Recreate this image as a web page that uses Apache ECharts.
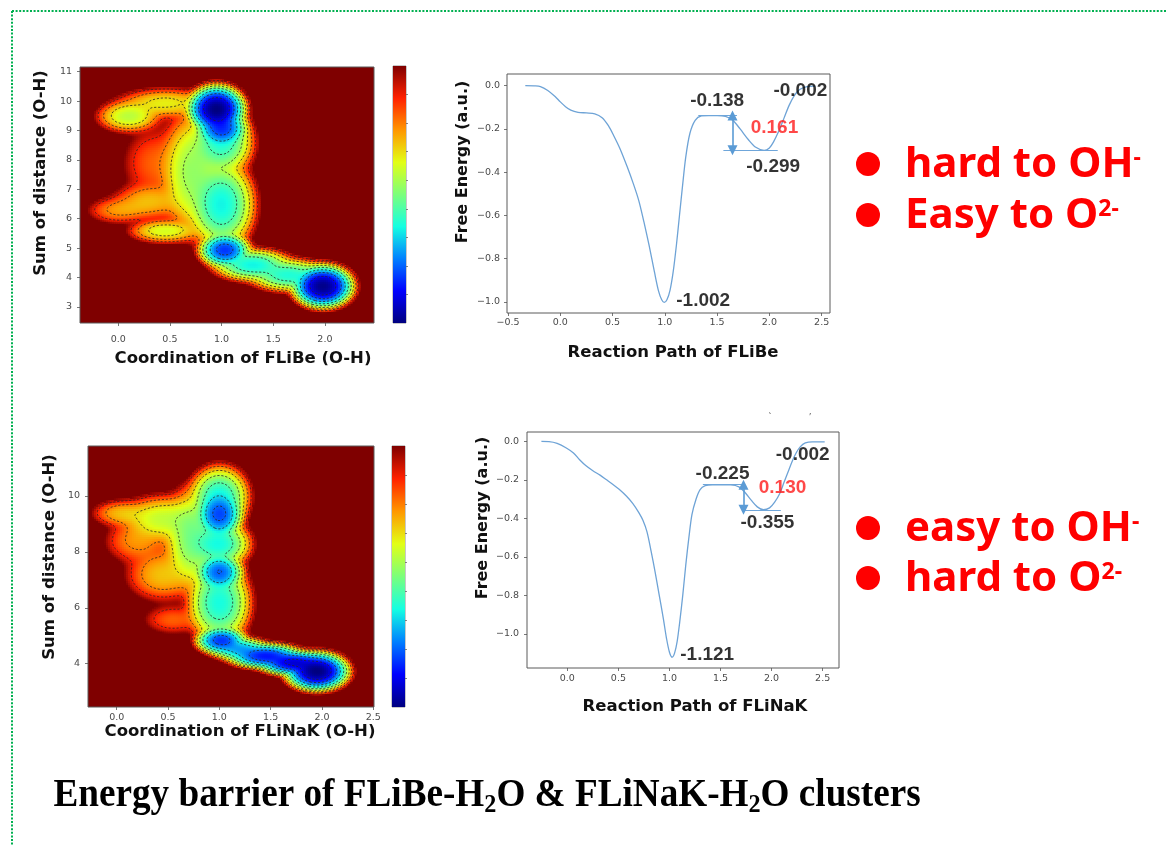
<!DOCTYPE html>
<html>
<head>
<meta charset="utf-8">
<script src="https://cdn.jsdelivr.net/npm/echarts@6/dist/echarts.min.js"></script>
<style>
  html, body { margin: 0; padding: 0; background: #ffffff; }
  #c { width: 1167px; height: 845px; }
</style>
</head>
<body>
<div id="c"></div>
<script>
// ---------- free-energy surfaces: basins [x, y, rx, ry, g0] ----------
const G_MAX = 9;
const WALL = 2.2;
const flibeBasins = [
  [0.95, 9.75, 0.34, 1.00, 0.0],
  [1.00, 9.10, 0.30, 0.80, 1.6],
  [1.98, 3.72, 0.36, 0.90, 0.1],
  [1.03, 4.95, 0.30, 0.70, 1.6],
  [1.00, 6.50, 0.38, 1.80, 3.3],
  [1.00, 8.60, 0.36, 1.30, 3.6],
  [1.30, 4.45, 0.45, 0.65, 3.3],
  [1.65, 4.10, 0.45, 0.65, 3.5],
  [0.10, 9.50, 0.34, 0.60, 5.2],
  [0.45, 9.95, 0.50, 0.55, 5.8],
  [0.72, 7.60, 0.35, 2.40, 4.8],
  [0.30, 6.60, 0.38, 0.65, 6.4],
  [0.00, 6.30, 0.30, 0.45, 6.8],
  [0.45, 5.60, 0.38, 0.45, 5.5],
  [0.35, 7.90, 0.30, 1.20, 7.3]
];
const flinakBasins = [
  [1.95, 3.75, 0.38, 0.85, 0.0],
  [1.72, 4.05, 0.42, 0.55, 0.8],
  [1.45, 4.30, 0.45, 0.55, 1.3],
  [1.02, 4.85, 0.30, 0.60, 1.6],
  [1.20, 4.55, 0.35, 0.50, 2.6],
  [1.00, 6.20, 0.36, 1.70, 3.4],
  [1.00, 7.30, 0.28, 0.85, 2.0],
  [1.00, 9.35, 0.28, 1.10, 1.8],
  [1.00, 10.0, 0.34, 1.30, 3.4],
  [1.00, 8.30, 0.36, 1.00, 3.4],
  [0.75, 8.50, 0.34, 2.10, 4.4],
  [0.45, 9.20, 0.45, 0.95, 5.3],
  [0.05, 9.40, 0.30, 0.50, 6.4],
  [0.20, 8.40, 0.32, 0.80, 6.8],
  [0.45, 7.20, 0.38, 1.00, 6.3],
  [0.55, 5.60, 0.28, 0.50, 7.3]
];
const contourLevels = [1, 2, 3, 4, 5, 6, 7, 8];

// ---------- 1-D free-energy profiles along the reaction path ----------
const flibePathX = [-0.335, -0.25, -0.19, -0.12, -0.05, 0.0, 0.05, 0.1, 0.17, 0.25, 0.33, 0.4, 0.46, 0.51, 0.57, 0.64, 0.7, 0.75, 0.8, 0.85, 0.9, 0.94, 0.97, 0.994, 1.02, 1.05, 1.08, 1.11, 1.14, 1.17, 1.2, 1.24, 1.29, 1.35, 1.42, 1.5, 1.58, 1.65, 1.72, 1.8, 1.87, 1.95, 2.0, 2.04, 2.09, 2.14, 2.19, 2.24, 2.29, 2.35, 2.44];
const flibePathG = [0.0, -0.001, -0.004, -0.022, -0.05, -0.075, -0.097, -0.113, -0.123, -0.126, -0.13, -0.148, -0.185, -0.23, -0.29, -0.375, -0.455, -0.53, -0.63, -0.74, -0.86, -0.95, -0.99, -1.002, -0.99, -0.945, -0.86, -0.74, -0.6, -0.46, -0.33, -0.22, -0.16, -0.14, -0.138, -0.138, -0.142, -0.16, -0.2, -0.25, -0.285, -0.299, -0.288, -0.26, -0.21, -0.15, -0.09, -0.045, -0.018, -0.005, -0.002];
const flinakPathX = [-0.254, -0.18, -0.1, -0.01, 0.06, 0.12, 0.18, 0.25, 0.32, 0.38, 0.45, 0.51, 0.58, 0.64, 0.7, 0.74, 0.78, 0.82, 0.86, 0.9, 0.94, 0.97, 1.0, 1.027, 1.05, 1.075, 1.1, 1.13, 1.16, 1.19, 1.22, 1.26, 1.3, 1.35, 1.42, 1.5, 1.6, 1.68, 1.74, 1.8, 1.86, 1.92, 1.98, 2.03, 2.08, 2.12, 2.16, 2.2, 2.24, 2.28, 2.33, 2.4, 2.52];
const flinakPathG = [0.0, -0.001, -0.01, -0.034, -0.06, -0.095, -0.125, -0.152, -0.175, -0.198, -0.225, -0.25, -0.285, -0.322, -0.37, -0.41, -0.47, -0.57, -0.68, -0.8, -0.92, -1.02, -1.095, -1.121, -1.1, -1.04, -0.94, -0.8, -0.64, -0.5, -0.38, -0.3, -0.25, -0.23, -0.225, -0.225, -0.226, -0.236, -0.265, -0.305, -0.34, -0.355, -0.345, -0.315, -0.27, -0.215, -0.16, -0.105, -0.06, -0.028, -0.008, -0.002, -0.002];

// states marked on each profile: [transition state, product well, main well, end]
const flibeStates = [-0.138, -0.299, -1.002, -0.002];
const flinakStates = [-0.225, -0.355, -1.121, -0.002];

// tick values
const flibeMapXTicks = [0, 0.5, 1, 1.5, 2];
const flibeMapYTicks = [3, 4, 5, 6, 7, 8, 9, 10, 11];
const flinakMapXTicks = [0, 0.5, 1, 1.5, 2, 2.5];
const flinakMapYTicks = [4, 6, 8, 10];
const pathXTicks = [-0.5, 0, 0.5, 1, 1.5, 2, 2.5];
const flibePathYTicks = [0, -0.2, -0.4, -0.6, -0.8, -1.0];
const flinakPathYTicks = [0, -0.2, -0.4, -0.6, -0.8, -1.0];
const colorbarTicks = [1, 2, 3, 4, 5, 6, 7, 8];

const jet = ['#00007f', '#0000ff', '#0080ff', '#15ffe2', '#7bff7b', '#e2ff15', '#ff9700', '#ff2100', '#7f0000'];

// ---------- surface evaluation ----------
function freeEnergy(basins, x, y) {
  let s = 0;
  for (const b of basins) {
    const dx = (x - b[0]) / b[2], dy = (y - b[1]) / b[3];
    const rho = Math.sqrt(dx * dx + dy * dy);
    s += Math.exp(-(b[4] + (G_MAX - b[4]) * Math.pow(rho, WALL)));
  }
  const g = -Math.log(s + 1e-300);
  return Math.max(0, Math.min(G_MAX, g));
}

function sampleSurface(basins, xr, yr, nx, ny) {
  const xs = [], ys = [], vals = new Float64Array(nx * ny);
  const dx = (xr[1] - xr[0]) / nx, dy = (yr[1] - yr[0]) / ny;
  for (let i = 0; i < nx; i++) xs.push(xr[0] + (i + 0.5) * dx);
  for (let j = 0; j < ny; j++) ys.push(yr[0] + (j + 0.5) * dy);
  const cells = [];
  for (let j = 0; j < ny; j++) {
    for (let i = 0; i < nx; i++) {
      const g = freeEnergy(basins, xs[i], ys[j]);
      vals[j * nx + i] = g;
      if (g < G_MAX - 1e-6) cells.push([xs[i], ys[j], g]);
    }
  }
  return { xs, ys, vals, nx, ny, dx, dy, cells };
}

// marching squares + chaining into polylines
function contourLines(s, level) {
  const { xs, ys, vals, nx, ny } = s;
  const pts = new Map();
  const segs = [];
  function edge(t, i, j) {
    const k = t + i + '_' + j;
    if (!pts.has(k)) {
      let i1 = i, j1 = j;
      if (t === 'h') i1 = i + 1; else j1 = j + 1;
      const a = vals[j * nx + i], b = vals[j1 * nx + i1];
      const f = (level - a) / (b - a);
      pts.set(k, [xs[i] + (xs[i1] - xs[i]) * f, ys[j] + (ys[j1] - ys[j]) * f]);
    }
    return k;
  }
  const table = {
    1: [[3, 0]], 2: [[0, 1]], 3: [[3, 1]], 4: [[1, 2]], 5: [[3, 0], [1, 2]],
    6: [[0, 2]], 7: [[3, 2]], 8: [[3, 2]], 9: [[0, 2]], 10: [[0, 1], [2, 3]],
    11: [[1, 2]], 12: [[3, 1]], 13: [[0, 1]], 14: [[3, 0]]
  };
  for (let j = 0; j < ny - 1; j++) {
    for (let i = 0; i < nx - 1; i++) {
      const v0 = vals[j * nx + i], v1 = vals[j * nx + i + 1];
      const v2 = vals[(j + 1) * nx + i + 1], v3 = vals[(j + 1) * nx + i];
      const code = (v0 > level ? 1 : 0) | (v1 > level ? 2 : 0) | (v2 > level ? 4 : 0) | (v3 > level ? 8 : 0);
      const pairs = table[code];
      if (!pairs) continue;
      const e = [() => edge('h', i, j), () => edge('v', i + 1, j), () => edge('h', i, j + 1), () => edge('v', i, j)];
      for (const p of pairs) segs.push([e[p[0]](), e[p[1]]()]);
    }
  }
  const adj = new Map();
  segs.forEach((sg, k) => sg.forEach(kk => { if (!adj.has(kk)) adj.set(kk, []); adj.get(kk).push(k); }));
  const used = new Uint8Array(segs.length);
  const lines = [];
  for (let k = 0; k < segs.length; k++) {
    if (used[k]) continue;
    used[k] = 1;
    const head = [segs[k][0]], tail = [segs[k][1]];
    for (const side of [tail, head]) {
      while (true) {
        const endKey = side[side.length - 1];
        const nxt = (adj.get(endKey) || []).find(m => !used[m]);
        if (nxt === undefined) break;
        used[nxt] = 1;
        side.push(segs[nxt][0] === endKey ? segs[nxt][1] : segs[nxt][0]);
      }
    }
    const chain = head.reverse().concat(tail);
    if (chain.length > 5) lines.push(chain.map(kk => pts.get(kk)));
  }
  return lines;
}

// ---------- panel geometry ----------
const mapA = { xr: [-0.37, 2.475], yr: [2.45, 11.16], grid: { left: 80, top: 67, width: 294, height: 256 } };
const mapB = { xr: [-0.28, 2.507], yr: [2.45, 11.79], grid: { left: 88, top: 446, width: 286, height: 261 } };
const barA = { left: 393, top: 66, width: 13, height: 257 };
const barB = { left: 392, top: 446, width: 13, height: 261 };
const pathA = { xr: [-0.51, 2.58], yr: [-1.051, 0.054], grid: { left: 507, top: 74, width: 323, height: 239 } };
const pathB = { xr: [-0.395, 2.66], yr: [-1.177, 0.049], grid: { left: 527, top: 432, width: 312, height: 236 } };

const surfA = sampleSurface(flibeBasins, mapA.xr, mapA.yr, 147, 128);
const surfB = sampleSurface(flinakBasins, mapB.xr, mapB.yr, 143, 130);
const linesA = [].concat(...contourLevels.map(l => contourLines(surfA, l)));
const linesB = [].concat(...contourLevels.map(l => contourLines(surfB, l)));

// ---------- helpers ----------
const tickFmt1 = v => (v < 0 ? '\u2212' : '') + Math.abs(v).toFixed(1);
const tickFmtInt = v => String(Math.round(v));
const tickFont = { color: '#4a4a4a', fontSize: 9.5, fontFamily: 'DejaVu Sans' };

function grid(g, extra) {
  return Object.assign({ left: g.left, top: g.top, width: g.width, height: g.height, containLabel: false,
    show: true, borderColor: '#5a5a5a', borderWidth: 1, backgroundColor: 'transparent' }, extra || {});
}
function axis(gi, range, ticks, fmt, margin, extra) {
  return Object.assign({
    type: 'value', gridIndex: gi, min: range[0], max: range[1],
    axisLine: { show: false, onZero: false }, splitLine: { show: false },
    axisTick: { show: !!ticks, length: 3, customValues: ticks || [], lineStyle: { color: '#555', width: 0.8 } },
    axisLabel: Object.assign({ show: !!ticks, customValues: ticks || [], formatter: fmt, margin: margin || 5 }, tickFont)
  }, extra || {});
}

function cellSeries(idx, surf) {
  const hx = surf.dx / 2, hy = surf.dy / 2;
  return {
    type: 'custom', xAxisIndex: idx, yAxisIndex: idx, clip: true, silent: true,
    progressive: 0, progressiveThreshold: 1e9, z: 2,
    data: surf.cells, encode: { x: 0, y: 1 },
    renderItem: (params, api) => {
      const x = api.value(0), y = api.value(1);
      const p0 = api.coord([x - hx, y + hy]);
      const p1 = api.coord([x + hx, y - hy]);
      return { type: 'rect', shape: { x: p0[0], y: p0[1], width: p1[0] - p0[0] + 0.7, height: p1[1] - p0[1] + 0.7 },
        style: { fill: api.visual('color') } };
    }
  };
}
function contourSeries(idx, lines) {
  return {
    type: 'custom', xAxisIndex: idx, yAxisIndex: idx, clip: true, silent: true, z: 3,
    progressive: 0, progressiveThreshold: 1e9,
    data: lines.map((ln, k) => [ln[0][0], ln[0][1], k]), encode: { x: 0, y: 1 },
    renderItem: (params, api) => {
      const pts = lines[api.value(2)].map(p => api.coord(p));
      return { type: 'polyline', shape: { points: pts },
        style: { stroke: '#262626', lineWidth: 0.8, lineDash: [2.2, 1.8], fill: null } };
    }
  };
}
function colorbarSeries(idx) {
  return {
    type: 'custom', xAxisIndex: idx, yAxisIndex: idx, silent: true, z: 2,
    data: [[0.5, G_MAX / 2]], encode: { x: 0, y: 1 },
    renderItem: (params, api) => {
      const a = api.coord([0, 0]), b = api.coord([1, G_MAX]);
      return { type: 'rect', shape: { x: a[0], y: b[1], width: b[0] - a[0], height: a[1] - b[1] },
        style: { fill: new echarts.graphic.LinearGradient(0, 1, 0, 0, jet.map((c, i) => ({ offset: i / (jet.length - 1), color: c }))) } };
    }
  };
}

const annoFont = { fontSize: 19, fontWeight: 'bold', fontFamily: 'Liberation Sans', color: '#000' };
function pathSeries(idx, xs, gs, states, geo) {
  // geo: positions of the marker lines, arrow and label offsets along the path axis
  const [ts, ps, ws, es] = states;
  const line = {
    type: 'line', xAxisIndex: idx, yAxisIndex: idx, smooth: 0.3, showSymbol: false, symbol: 'none',
    data: xs.map((x, i) => [x, gs[i]]),
    lineStyle: { color: '#6ea3d6', width: 1.3 }, z: 4,
    markLine: {
      silent: true, symbol: 'none', animation: false,
      label: { show: false },
      lineStyle: { color: '#6fa6da', width: 1.1, type: 'solid' },
      data: [
        [{ coord: [geo.tsLine[0], ts] }, { coord: [geo.tsLine[1], ts] }],
        [{ coord: [geo.psLine[0], ps] }, { coord: [geo.psLine[1], ps] }],
        [{ coord: [geo.arrowX, ts], symbol: 'triangle', symbolSize: [10, 10], symbolRotate: 0, lineStyle: { color: '#5b9bd5', width: 1.6 } },
         { coord: [geo.arrowX, ps], symbol: 'triangle', symbolSize: [10, 10], symbolRotate: 180, lineStyle: { color: '#5b9bd5', width: 1.6 } }]
      ]
    }
  };
  const lastX = xs[xs.length - 1];
  const labels = {
    type: 'scatter', xAxisIndex: idx, yAxisIndex: idx, symbolSize: 0, silent: true, z: 6,
    label: Object.assign({ show: true, position: 'inside', align: 'center', verticalAlign: 'middle',
      formatter: p => p.value[2].toFixed(3) }, annoFont),
    data: [
      { value: [geo.tsAt, ts, ts], label: { offset: geo.tsOff } },
      { value: [geo.psAt, ps, ps], label: { offset: geo.psOff } },
      { value: [geo.wsAt, ws, ws], label: { offset: geo.wsOff } },
      { value: [lastX, es, es], label: { offset: geo.esOff } },
      { value: [geo.arrowX, (ts + ps) / 2, Math.abs(ts - ps)], label: { offset: geo.dOff, color: '#ff1a1a' } }
    ]
  };
  return [line, labels];
}

// ---------- option ----------
const series = [];
series.push(cellSeries(0, surfA));             // 0
series.push(contourSeries(0, linesA));         // 1
series.push(colorbarSeries(1));                // 2
series.push(...pathSeries(2, flibePathX, flibePathG, flibeStates, {
  tsLine: [1.32, 1.69], psLine: [1.56, 2.08], arrowX: 1.647,
  tsAt: 1.5, tsOff: [0, -15], psAt: 1.95, psOff: [9, 16], wsAt: 0.994, wsOff: [39, -2],
  esOff: [-15, 5], dOff: [42, -5]
}));                                           // 3,4
series.push(cellSeries(3, surfB));             // 5
series.push(contourSeries(3, linesB));         // 6
series.push(colorbarSeries(4));                // 7
series.push(...pathSeries(5, flinakPathX, flinakPathG, flinakStates, {
  tsLine: [1.327, 1.72], psLine: [1.73, 2.09], arrowX: 1.725,
  tsAt: 1.5, tsOff: [2, -11], psAt: 1.92, psOff: [4, 13], wsAt: 1.027, wsOff: [35, -2],
  esOff: [-22, 13], dOff: [39, -9]
}));                                           // 8,9

const bold16 = { fontFamily: 'DejaVu Sans', fontWeight: 'bold', fontSize: 16.5, fill: '#111' };
function title(text, x, y, rot, size) {
  return { type: 'text', x, y, rotation: rot ? Math.PI / 2 : 0, silent: true,
    style: Object.assign({}, bold16, { text, fontSize: size || 16.5, align: 'center', verticalAlign: 'middle' }) };
}
const bulletStyle = {
  m: { fontFamily: 'Noto Sans', fontWeight: 'bold', fontSize: 42, fill: '#ff0000', lineHeight: 48 },
  s: { fontFamily: 'Noto Sans', fontWeight: 'bold', fontSize: 23, fill: '#ff0000', lineHeight: 30, verticalAlign: 'top', padding: [6, 0, 0, 0] }
};
function bullet(y, rich) {
  return [
    { type: 'circle', shape: { cx: 868, cy: y, r: 12 }, style: { fill: '#ff0000' }, silent: true },
    { type: 'text', x: 905, y: y + 1, silent: true, style: { text: rich, rich: bulletStyle, align: 'left', verticalAlign: 'middle' } }
  ];
}

const colorbarY = (gi) => axis(gi, [0, G_MAX], null, null, 0, {
  position: 'right',
  axisTick: { show: true, length: 2, customValues: colorbarTicks, lineStyle: { color: '#666', width: 0.8 } }
});

const option = {
  animation: false,
  backgroundColor: '#ffffff',
  grid: [
    grid(mapA.grid, { backgroundColor: '#7f0000' }),
    grid(barA, { borderColor: '#777', borderWidth: 0.8 }),
    grid(pathA.grid),
    grid(mapB.grid, { backgroundColor: '#7f0000' }),
    grid(barB, { borderColor: '#777', borderWidth: 0.8 }),
    grid(pathB.grid)
  ],
  xAxis: [
    axis(0, mapA.xr, flibeMapXTicks, tickFmt1, 12),
    axis(1, [0, 1], null, null),
    axis(2, pathA.xr, pathXTicks.filter(v => v >= pathA.xr[0] && v <= pathA.xr[1]), tickFmt1, 5),
    axis(3, mapB.xr, flinakMapXTicks, tickFmt1, 6),
    axis(4, [0, 1], null, null),
    axis(5, pathB.xr, pathXTicks.filter(v => v >= pathB.xr[0] && v <= pathB.xr[1]), tickFmt1, 6)
  ],
  yAxis: [
    axis(0, mapA.yr, flibeMapYTicks, tickFmtInt, 8),
    colorbarY(1),
    axis(2, pathA.yr, flibePathYTicks, tickFmt1, 7),
    axis(3, mapB.yr, flinakMapYTicks, tickFmtInt, 8),
    colorbarY(4),
    axis(5, pathB.yr, flinakPathYTicks, tickFmt1, 8)
  ],
  visualMap: [{
    type: 'continuous', show: false, seriesIndex: [0, 5], dimension: 2,
    min: 0, max: G_MAX, inRange: { color: jet }
  }],
  series,
  graphic: [
    // dotted frame
    { type: 'line', shape: { x1: 12, y1: 11, x2: 1167, y2: 11 }, style: { stroke: '#00b050', lineWidth: 2, lineDash: [2, 1.6] }, silent: true },
    { type: 'line', shape: { x1: 12, y1: 11, x2: 12, y2: 845 }, style: { stroke: '#00b050', lineWidth: 2, lineDash: [2, 1.6] }, silent: true },
    // axis titles
    title('Sum of distance (O-H)', 41, 173, true),
    title('Coordination of FLiBe (O-H)', 243, 359, false),
    title('Free Energy (a.u.)', 463, 162, true, 16),
    title('Reaction Path of FLiBe', 673, 353, false),
    title('Sum of distance (O-H)', 50, 557, true),
    title('Coordination of FLiNaK (O-H)', 240, 732, false),
    title('Free Energy (a.u.)', 483, 518, true, 16),
    title('Reaction Path of FLiNaK', 695, 707, false),
    { type: 'text', x: 770, y: 417, silent: true, style: { text: '`', fontSize: 9, fill: '#333', align: 'center', verticalAlign: 'middle' } },
    { type: 'text', x: 810, y: 417, silent: true, style: { text: '\u2032', fontSize: 9, fill: '#333', align: 'center', verticalAlign: 'middle' } },
    // conclusions
    ...bullet(164, '{m|hard to OH}{s|-}'),
    ...bullet(215, '{m|Easy to O}{s|2-}'),
    ...bullet(528, '{m|easy to OH}{s|-}'),
    ...bullet(578, '{m|hard to O}{s|2-}'),
    // caption
    { type: 'text', x: 50, y: 796, scaleX: 0.93, originX: 50, originY: 796, silent: true,
      style: { text: '{t|Energy barrier of FLiBe-H}{d|2}{t|O & FLiNaK-H}{d|2}{t|O clusters}', align: 'left', verticalAlign: 'middle',
        rich: {
          t: { fontFamily: 'Liberation Serif', fontWeight: 'bold', fontSize: 40, fill: '#000', lineHeight: 44 },
          d: { fontFamily: 'Liberation Serif', fontWeight: 'bold', fontSize: 26, fill: '#000', lineHeight: 26, verticalAlign: 'bottom' }
        } } }
  ]
};

const chart = echarts.init(document.getElementById('c'));
chart.setOption(option);
</script>
</body>
</html>
